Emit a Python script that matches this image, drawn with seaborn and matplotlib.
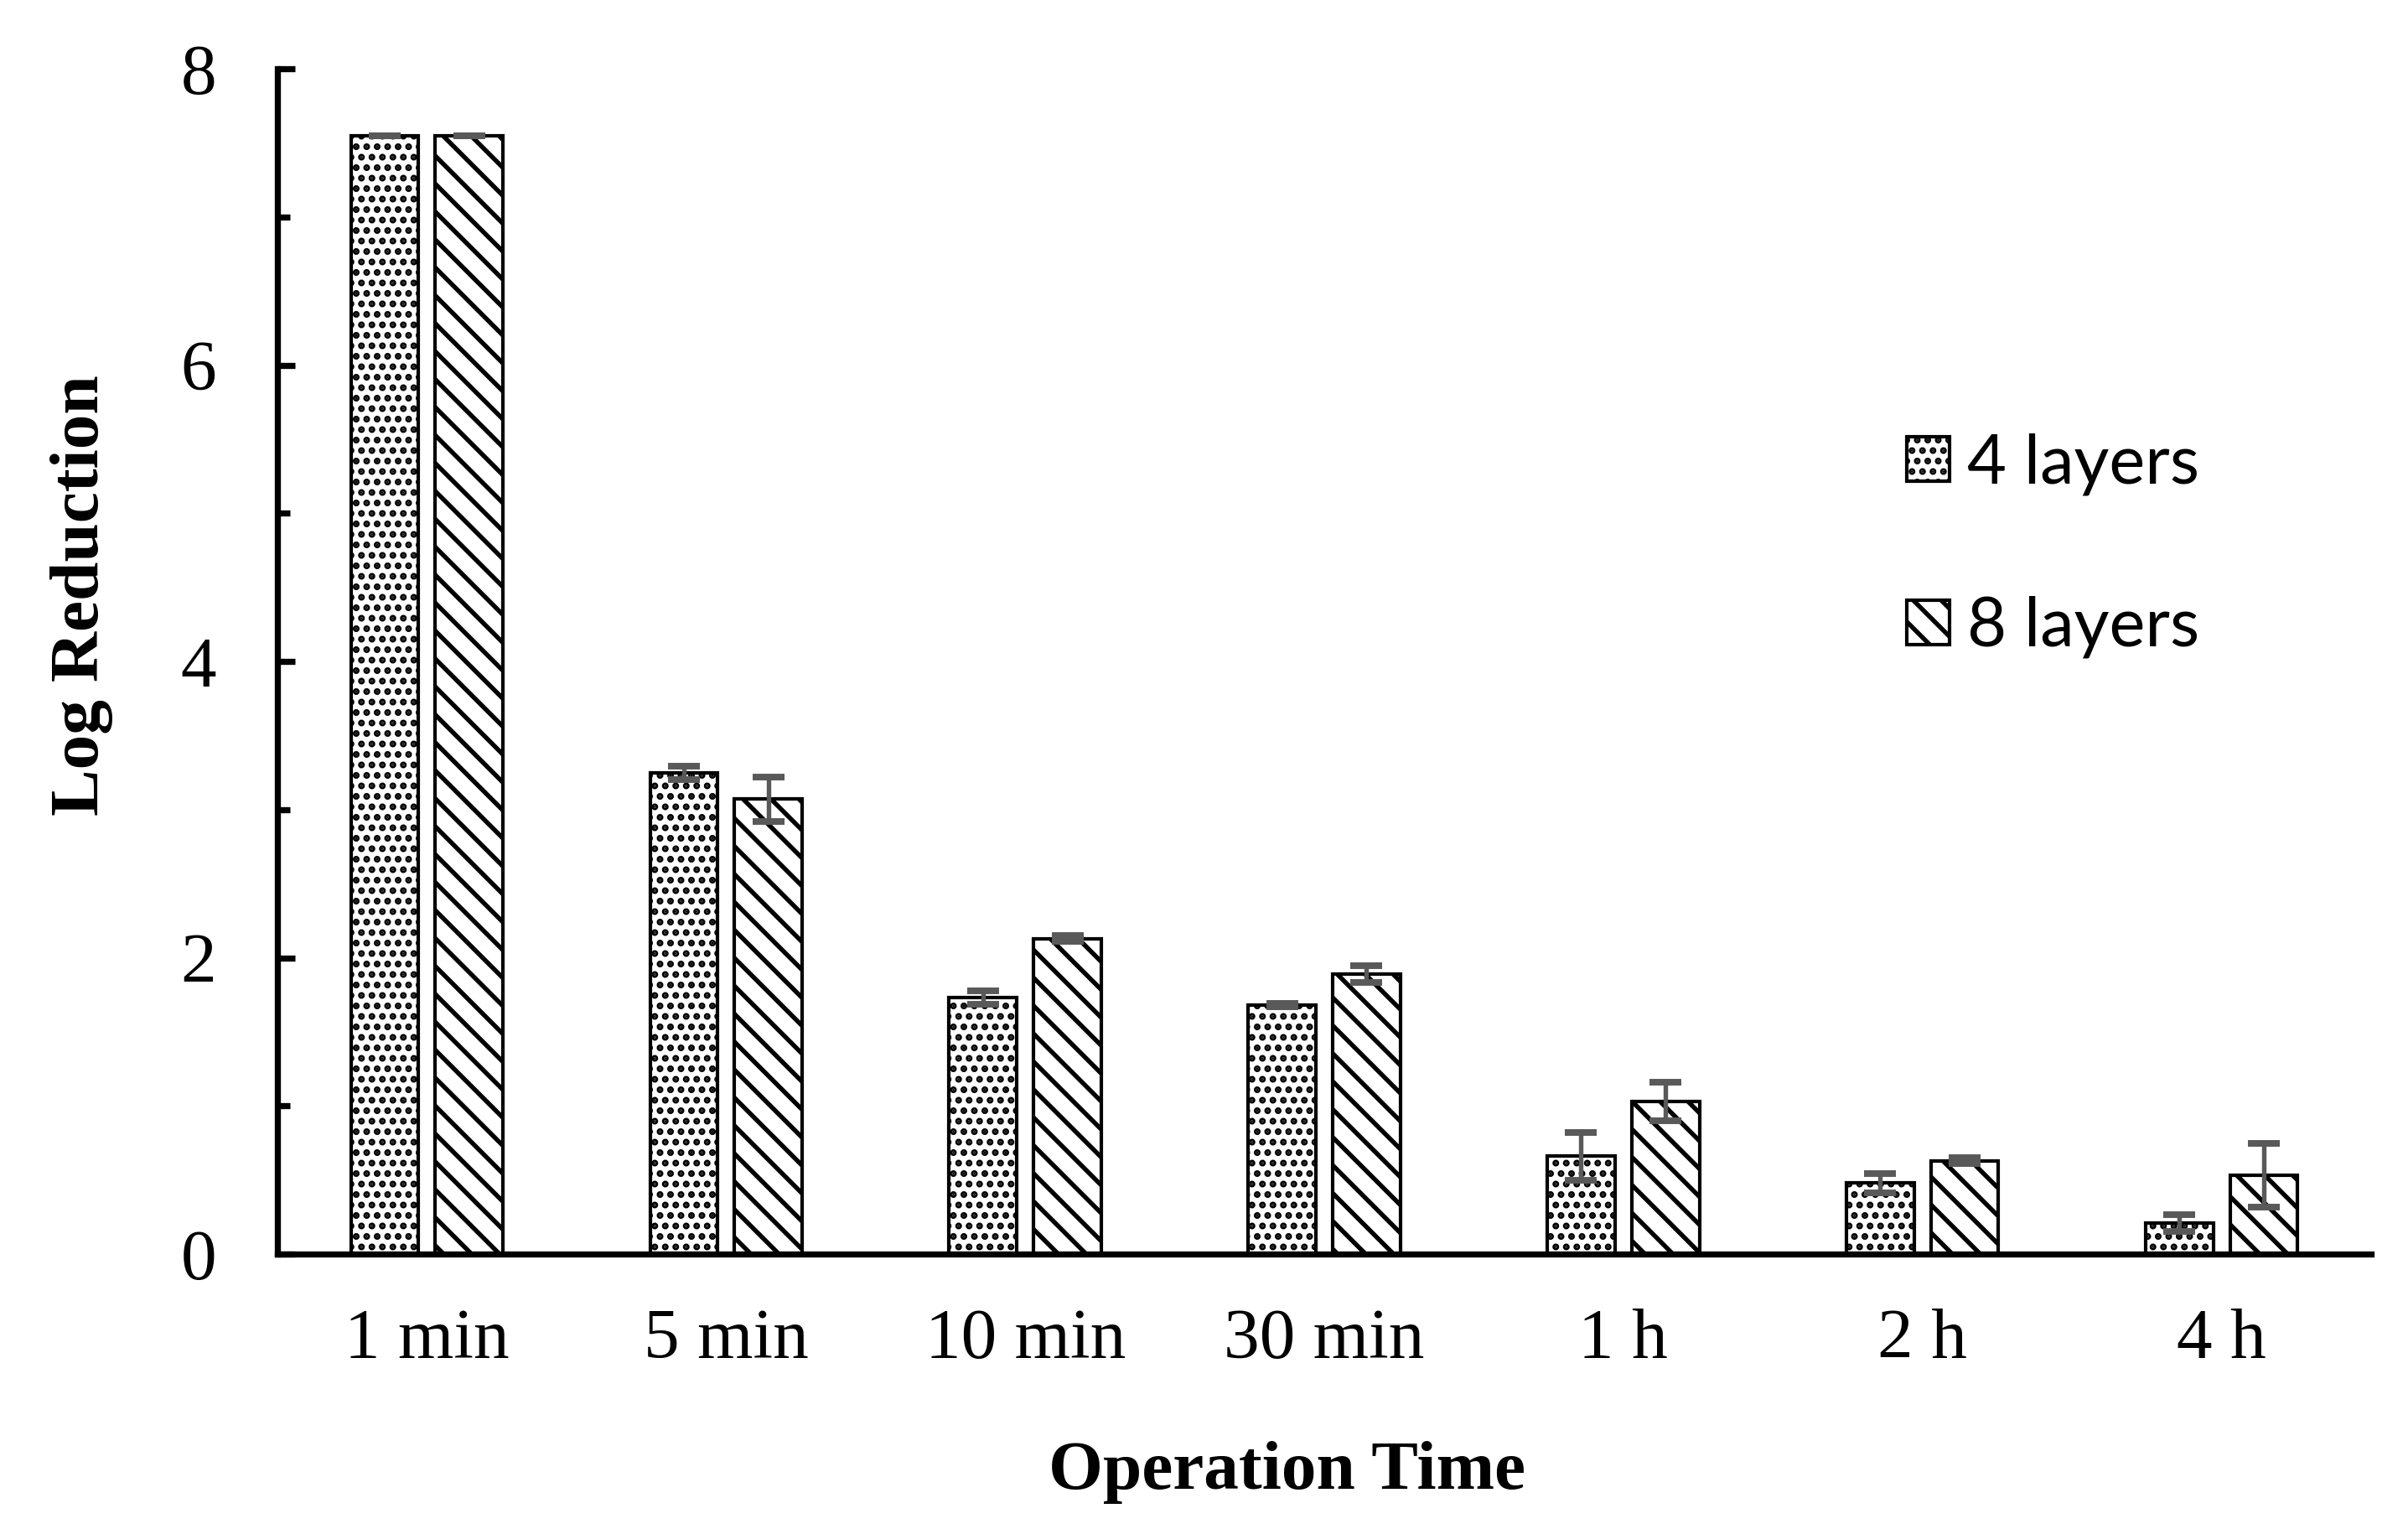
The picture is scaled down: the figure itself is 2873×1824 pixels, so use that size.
import numpy as np
import pandas as pd
import matplotlib
matplotlib.use("Agg")
import matplotlib.pyplot as plt
import seaborn as sns
from matplotlib.ticker import MultipleLocator

# ---- data ----
categories = ["1 min", "5 min", "10 min", "30 min", "1 h", "2 h", "4 h"]
series_names = ["4 layers", "8 layers"]
vals_4 = [7.55, 3.25, 1.73, 1.68, 0.66, 0.48, 0.21]
err_4 = [0.0, 0.045, 0.045, 0.01, 0.16, 0.065, 0.055]
vals_8 = [7.55, 3.07, 2.13, 1.89, 1.03, 0.63, 0.53]
err_8 = [0.0, 0.15, 0.02, 0.055, 0.13, 0.02, 0.215]
y_ticks = [0, 2, 4, 6, 8]

sns.set_style("ticks")
plt.rcParams['font.family'] = ['Liberation Serif', 'DejaVu Serif']
plt.rcParams['hatch.linewidth'] = 1.3
plt.rcParams['text.color'] = 'black'
plt.rcParams['axes.labelcolor'] = 'black'
plt.rcParams['xtick.color'] = 'black'
plt.rcParams['ytick.color'] = 'black'

df = pd.DataFrame({
    "time": categories * 2,
    "layers": [series_names[0]] * len(categories) + [series_names[1]] * len(categories),
    "value": vals_4 + vals_8,
})

fig = plt.figure(figsize=(2873 / 300, 1824 / 300), dpi=300)
ax = fig.add_axes([0.1152, 0.1798, 0.9847 - 0.1152, 0.955 - 0.1798])

sns.barplot(data=df, x="time", y="value", hue="layers", order=categories,
            hue_order=series_names,
            palette={series_names[0]: "white", series_names[1]: "white"},
            edgecolor="black", linewidth=1.0, width=0.565, gap=0.2,
            errorbar=None, legend=False, ax=ax)

bar_conts = list(ax.containers[:2])
hatches = ['....', '\\\\\\']
errs = [err_4, err_8]
for cont, h, e in zip(bar_conts, hatches, errs):
    xs, ys = [], []
    for bar in cont:
        bar.set_hatch(h)
        bar.set_edgecolor("black")
        xs.append(bar.get_x() + bar.get_width() / 2)
        ys.append(bar.get_height())
    ax.errorbar(xs, ys, yerr=e, fmt='none', ecolor='#595959', elinewidth=1.3,
                capsize=4.6, capthick=1.9, zorder=5)

ax.legend(handles=bar_conts, labels=series_names, loc='upper left',
          bbox_to_anchor=(0.7918, 0.717), bbox_transform=fig.transFigure,
          frameon=False, prop={'family': 'Lato', 'size': 19.5},
          handlelength=0.63, handleheight=0.64, handletextpad=0.26,
          labelspacing=1.48, borderpad=0, borderaxespad=0, labelcolor='black')

ax.set_xlim(-0.5, 6.5)
ax.set_ylim(0, 8)
ax.set_yticks(y_ticks)
ax.yaxis.set_minor_locator(MultipleLocator(1))
ax.tick_params(axis='y', which='major', direction='in', length=5, width=1.75,
               pad=17.5, labelsize=20.5, colors='black')
ax.tick_params(axis='y', which='minor', direction='in', length=3.7, width=1.75)
ax.tick_params(axis='x', length=0, pad=15.5, labelsize=20.5, colors='black')
for s in ['top', 'right']:
    ax.spines[s].set_visible(False)
for s in ['left', 'bottom']:
    ax.spines[s].set_linewidth(1.75)
    ax.spines[s].set_color('black')

ax.set_xlabel("Operation Time", fontsize=20, fontweight='bold', color='black')
ax.set_ylabel("Log Reduction", fontsize=20, fontweight='bold', color='black')
ax.xaxis.set_label_coords(0.482, -0.158)
ax.yaxis.set_label_coords(-0.0785, 0.556)

fig.savefig('out.png', dpi=300)
